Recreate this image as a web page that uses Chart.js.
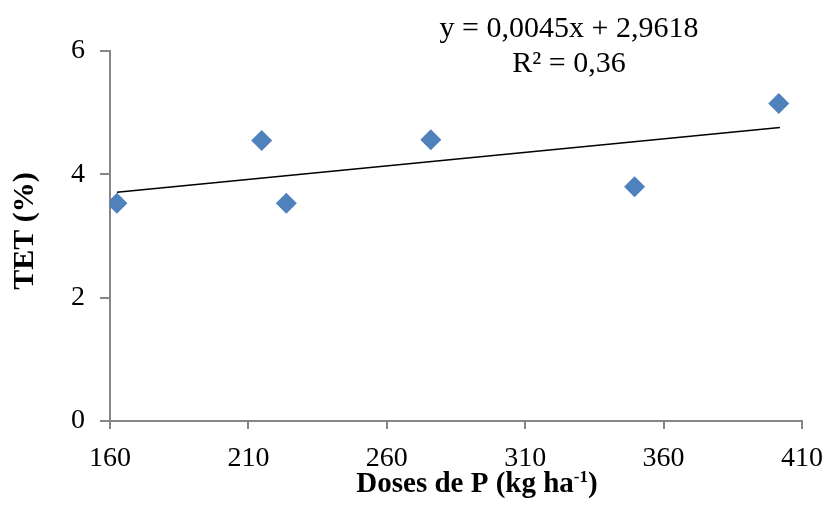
<!DOCTYPE html>
<html>
<head>
<meta charset="utf-8">
<script src="https://cdn.jsdelivr.net/npm/chart.js@4/dist/chart.umd.min.js"></script>
<style>
  html, body { margin: 0; padding: 0; background: #fff; }
  #wrap { width: 836px; height: 508px; }
</style>
</head>
<body>
<div id="wrap"><canvas id="myChart" width="836" height="508"></canvas></div>
<script>
// data
var doses = [162.5, 214.8, 223.7, 275.9, 349.5, 401.6];
var tet = [3.53, 4.55, 3.53, 4.56, 3.80, 5.15];
var trendX = [162.5, 402.0];
var trendY = [3.71, 4.76];
var xTicks = [160, 210, 260, 310, 360, 410];
var yTicks = [0, 2, 4, 6];
var equation = ["y = 0,0045x + 2,9618", "R² = 0,36"];

var axisGrey = "#868686";
var serif = "'Liberation Serif', 'Times New Roman', serif";

// titles and equation text
var textPlugin = {
  id: "texts",
  afterDraw: function(chart) {
    var c = chart.ctx;
    c.save();
    c.fillStyle = "#000";
    // equation
    c.font = "30px " + serif;
    c.textAlign = "center";
    c.textBaseline = "alphabetic";
    c.fillText(equation[0], 569, 37);
    c.fillText(equation[1], 569, 72);

    // x title with superscript
    var mainFont = "bold 29px " + serif;
    var supFont = "bold 17px " + serif;
    var a = "Doses de P (kg ha", sup = "-1", b = ")";
    c.font = mainFont; var wa = c.measureText(a).width, wb = c.measureText(b).width;
    c.font = supFont; var ws = c.measureText(sup).width;
    var x0 = 477 - (wa + ws + wb) / 2;
    c.textAlign = "left";
    c.font = mainFont; c.fillText(a, x0, 492);
    c.font = supFont; c.fillText(sup, x0 + wa, 482);
    c.font = mainFont; c.fillText(b, x0 + wa + ws, 492);

    // y title
    c.translate(25, 231);
    c.rotate(-Math.PI / 2);
    c.textAlign = "center";
    c.textBaseline = "middle";
    c.font = "bold 30px " + serif;
    c.fillText("TET (%)", 0, 0);
    c.restore();
  }
};

var ctx = document.getElementById("myChart");
var myChart = new Chart(ctx, {
  type: "scatter",
  data: {
    datasets: [
      {
        label: "TET",
        data: doses.map(function(d, i) { return { x: d, y: tet[i] }; }),
        pointStyle: "rectRot",
        pointRadius: 10.5,
        pointBackgroundColor: "#4F81BD",
        pointBorderColor: "#4F81BD",
        pointBorderWidth: 0,
        showLine: false,
        order: 1
      },
      {
        label: "Linear",
        type: "line",
        data: trendX.map(function(d, i) { return { x: d, y: trendY[i] }; }),
        borderColor: "#000",
        borderWidth: 1.5,
        pointRadius: 0,
        fill: false,
        order: 2
      }
    ]
  },
  options: {
    responsive: false,
    animation: false,
    layout: { padding: { top: 51, right: 30, left: 0, bottom: 0 } },
    plugins: {
      legend: { display: false },
      tooltip: { enabled: false }
    },
    scales: {
      x: {
        type: "linear",
        min: xTicks[0],
        max: xTicks[xTicks.length - 1],
        afterBuildTicks: function(axis) {
          axis.ticks = xTicks.map(function(v) { return { value: v }; });
        },
        afterFit: function(axis) { axis.height = 87; },
        grid: { drawOnChartArea: false, color: axisGrey, lineWidth: 2, tickLength: 8 },
        border: { color: axisGrey, width: 2 },
        ticks: { color: "#000", padding: 13, font: { family: serif, size: 28 } }
      },
      y: {
        min: yTicks[0],
        max: yTicks[yTicks.length - 1],
        afterBuildTicks: function(axis) {
          axis.ticks = yTicks.map(function(v) { return { value: v }; });
        },
        afterFit: function(axis) { axis.width = 110; },
        grid: { drawOnChartArea: false, color: axisGrey, lineWidth: 2, tickLength: 10 },
        border: { color: axisGrey, width: 2 },
        ticks: { color: "#000", padding: 15, font: { family: serif, size: 28 } }
      }
    }
  },
  plugins: [textPlugin]
});
</script>
</body>
</html>
